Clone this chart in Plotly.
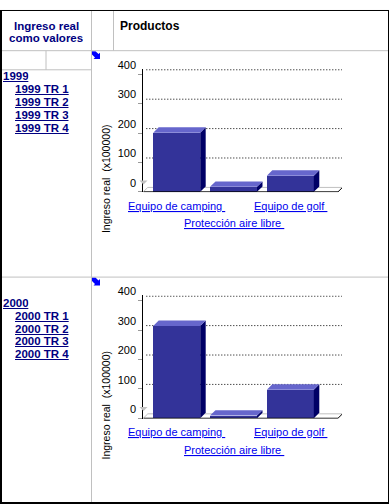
import plotly.graph_objects as go

# ---------------- data ----------------
categories = ["Equipo de camping", "Protección aire libre", "Equipo de golf"]
years = ["1999", "2000"]
quarters = ["TR 1", "TR 2", "TR 3", "TR 4"]
ingreso_1999 = [201, 17, 55]
ingreso_2000 = [314, 9, 97]
y_ticks = [0, 100, 200, 300, 400]
y_title = "Ingreso real  (x100000)"
row_header = ["Ingreso real", "como valores"]
col_header = "Productos"

# ---------------- geometry (pixels) ----------------
W, H = 389, 504
def px(x): return x / W
def py(y): return 1 - y / H

X_LEFT, X_RIGHT = 143.3, 342.0
PITCH, FIRST_C = 56.8, 176.7
BAR_W = 47.0
PPU = 0.3                 # pixels per value unit
AX_TOP = 125.5            # axis height above zero (px)
DEPTH_BAR = 5.5
DEPTH_FLOOR = 4.5
ZEROS = [185.5, 416.5]    # pixel row of zero for each chart
SECTION_TOP = [41.5, 272.5]

def dx(p): return p / PITCH
def dy(p): return p / PPU
def xdata(pxl): return (pxl - FIRST_C) / PITCH

FONT = "Liberation Sans, Arial, sans-serif"
NAVY = "#000080"
LINK = "#0000ee"
GRAY = "#c0c0c0"
TS = 11.5   # left-column / header text size

fig = go.Figure()
shapes = []
annotations = []

def label(x, y, text, size, color, bold=False, xanchor="left", h=None):
    d = dict(xref="paper", yref="paper", x=x, y=y, text=text, showarrow=False,
             xanchor=xanchor, yanchor="middle",
             font=dict(family=FONT, size=size, color=color, weight="bold" if bold else "normal"))
    if h is not None:
        d.update(height=h, borderpad=0, valign="middle")
    annotations.append(d)

series = [ingreso_1999, ingreso_2000]
for k, (vals, Z) in enumerate(zip(series, ZEROS)):
    xa = "x" if k == 0 else "x2"
    ya = "y" if k == 0 else "y2"
    bw = BAR_W / PITCH
    xs = list(range(len(categories)))
    fig.add_trace(go.Bar(x=xs, y=vals, width=bw, marker=dict(color="#333399", line=dict(width=0)),
                         xaxis=xa, yaxis=ya, hoverinfo="skip", showlegend=False))
    for i, v in zip(xs, vals):
        xl, xr = i - bw / 2, i + bw / 2
        ddx, ddy = dx(DEPTH_BAR), dy(DEPTH_BAR)
        fig.add_trace(go.Scatter(x=[xr, xr, xr + ddx, xr + ddx, xr], y=[0, v, v + ddy, ddy, 0],
                                 fill="toself", fillcolor="#000066", mode="lines",
                                 line=dict(width=0, color="#000066"),
                                 xaxis=xa, yaxis=ya, hoverinfo="skip", showlegend=False))
        fig.add_trace(go.Scatter(x=[xl, xr, xr + ddx, xl + ddx, xl], y=[v, v, v + ddy, v + ddy, v],
                                 fill="toself", fillcolor="#6666cc", mode="lines",
                                 line=dict(width=0, color="#6666cc"),
                                 xaxis=xa, yaxis=ya, hoverinfo="skip", showlegend=False))
    # dotted back gridlines
    for t in y_ticks[1:]:
        shapes.append(dict(type="line", xref=xa, yref=ya, layer="below",
                           x0=xdata(X_LEFT + 3), x1=xdata(X_RIGHT), y0=t + dy(DEPTH_FLOOR), y1=t + dy(DEPTH_FLOOR),
                           line=dict(color="black", width=1, dash="1px,2px")))
    # floor
    fd = DEPTH_FLOOR
    shapes.append(dict(type="path", xref=xa, yref=ya, layer="below",
                       path=f"M {xdata(X_LEFT)},0 L {xdata(X_LEFT+fd)},{dy(fd)} L {xdata(X_RIGHT+0.5)},{dy(fd)}",
                       line=dict(color=GRAY, width=1)))
    shapes.append(dict(type="path", xref=xa, yref=ya, layer="above",
                       path=f"M {xdata(X_LEFT)},0 L {xdata(X_RIGHT-4)},0 L {xdata(X_RIGHT+0.5)},{dy(fd)}",
                       line=dict(color="black", width=1)))
    # gray marker near zero
    shapes.append(dict(type="path", xref="paper", yref="paper",
                       path=f"M {px(139.5)},{py(Z-11.5)} L {px(147.5)},{py(Z-11.5)} L {px(143.5)},{py(Z-7.5)} Z",
                       fillcolor=GRAY, line=dict(width=0)))
    # category labels (staggered)
    for i, c in enumerate(categories):
        off = 14 if i % 2 == 0 else 32
        annotations.append(dict(xref=xa, yref="paper", x=i, y=py(Z + off), text=f"<u>{c}\u00a0</u>",
                                showarrow=False, xanchor="center", yanchor="middle",
                                font=dict(family=FONT, size=11, color=LINK)))
    # axis title
    annotations.append(dict(xref="paper", yref="paper", x=px(106), y=py(Z - 14), text=y_title,
                            textangle=-90, showarrow=False, xanchor="center", yanchor="middle",
                            font=dict(family=FONT, size=10.5, color="black")))
    # axes
    axis_x = dict(domain=[px(X_LEFT), px(X_RIGHT)], range=[xdata(X_LEFT), xdata(X_RIGHT)],
                  visible=False, fixedrange=True)
    axis_y = dict(domain=[py(Z + 0.5), py(Z - AX_TOP)], range=[-0.5 / PPU, AX_TOP / PPU],
                  tickvals=y_ticks, ticktext=[str(t) for t in y_ticks], ticks="outside", ticklen=4,
                  tickcolor="#999999", showline=True, linecolor="black", linewidth=1, showgrid=False,
                  zeroline=False, ticklabelshift=-9, tickfont=dict(family=FONT, size=11, color="black"),
                  anchor=xa, fixedrange=True)
    if k == 0:
        fig.update_layout(xaxis=dict(axis_x, anchor="y"), yaxis=axis_y)
    else:
        fig.update_layout(xaxis2=dict(axis_x, anchor="y2"), yaxis2=axis_y)

    # blue corner arrow icon
    top = SECTION_TOP[k]
    ax0, ay0 = 91.5, top
    pts = [(0.5, 0.5), (4, 0.5), (7, 3.5), (8.5, 2), (8.5, 8.5), (2, 8.5), (3.5, 7), (0.5, 4)]
    path = "M " + " L ".join(f"{px(ax0 + a)},{py(ay0 + b)}" for a, b in pts) + " Z"
    shapes.append(dict(type="path", xref="paper", yref="paper", path=path,
                       fillcolor="#0000ff", line=dict(width=0)))

    # left column: year and quarter links
    yr = years[k]
    label(px(1.5), py(top + 26), f"<u>{yr}</u>", TS, NAVY, bold=True, h=12)
    for j, q in enumerate(quarters):
        label(px(13.5), py(top + 39.5 + 13 * j), f"<u>{yr} {q}</u>", TS, NAVY, bold=True, h=12)

# headers
label(px(46), py(16), row_header[0], TS, NAVY, bold=True, xanchor="center", h=12)
label(px(46), py(29), row_header[1], TS, NAVY, bold=True, xanchor="center", h=12)
label(px(118), py(16), col_header, 12, "black", bold=True)

# table grid lines
def hline(y, x0, x1, color=GRAY, w=1):
    shapes.append(dict(type="line", xref="paper", yref="paper", x0=px(x0), x1=px(x1), y0=py(y), y1=py(y),
                       line=dict(color=color, width=w)))
def vline(x, y0, y1, color=GRAY, w=1):
    shapes.append(dict(type="line", xref="paper", yref="paper", x0=px(x), x1=px(x), y0=py(y0), y1=py(y1),
                       line=dict(color=color, width=w)))

hline(41.5, 0, W)
hline(272.5, 0, W)
hline(61, 0, 91.5)
vline(91.5, 0, H)
vline(113.5, 0, 41.5)
vline(46, 41.5, 61)
# outer border
vline(1, 0, H, "black", 2)
vline(388.5, 0, H, "black", 1)
hline(0.5, 0, W, "black", 1)
hline(503, 0, W, "black", 2)

fig.update_layout(width=W, height=H, margin=dict(l=0, r=0, t=0, b=0),
                  paper_bgcolor="white", plot_bgcolor="rgba(0,0,0,0)",
                  shapes=shapes, annotations=annotations, showlegend=False, bargap=0)

post = ("document.documentElement.style.margin='0';document.body.style.margin='0';"
        "document.body.style.padding='0';document.body.style.overflow='hidden';"
        "var gd=document.getElementById('{plot_id}');gd.style.position='fixed';"
        "gd.style.top='0px';gd.style.left='0px';")
fig.write_html("out.html", config={"displayModeBar": False, "staticPlot": True}, post_script=post)
